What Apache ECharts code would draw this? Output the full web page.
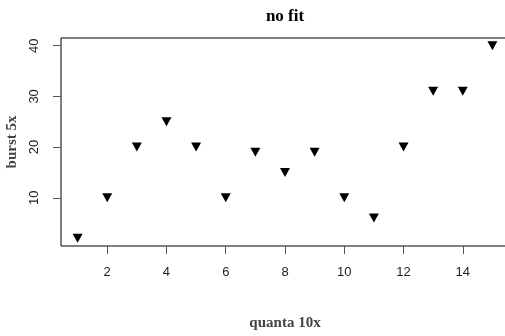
<!DOCTYPE html>
<html><head><meta charset="utf-8">
<script src="https://cdn.jsdelivr.net/npm/echarts@6/dist/echarts.min.js"></script>
<style>html,body{margin:0;padding:0;background:#fff}#c{width:505px;height:336px}</style>
</head><body><div id="c"></div>
<script>
const xValues = [1,2,3,4,5,6,7,8,9,10,11,12,13,14,15];
const yValues = [2,10,20,25,20,10,19,15,19,10,6,20,31,31,40];
const xTicks = [2,4,6,8,10,12,14];
const yTicks = [10,20,30,40];
const points = xValues.map((x,i)=>[x,yValues[i]]);
const chart = echarts.init(document.getElementById('c'), null, {renderer:'canvas'});
chart.setOption({
  animation:false,
  backgroundColor:'#fff',
  title:{text:'no fit',left:280,textAlign:'center',top:3,
    textStyle:{fontFamily:'Liberation Serif',fontWeight:'bold',fontSize:17,color:'#000'}},
  grid:{left:61,top:38,width:448,height:208,show:true,borderColor:'#000',borderWidth:1,backgroundColor:'transparent',outerBoundsMode:'none',containLabel:false},
  xAxis:{type:'value',min:0.44,max:15.56,splitLine:{show:false},
    axisLine:{show:false},
    axisTick:{show:true,inside:false,length:8,customValues:xTicks,lineStyle:{color:'#555'}},
    axisLabel:{customValues:xTicks,margin:20,fontFamily:'Liberation Sans',fontSize:13,color:'#222'},
    name:'quanta 10x',nameLocation:'middle',nameGap:70,
    nameTextStyle:{fontFamily:'Liberation Serif',fontWeight:'bold',fontSize:15,color:'#444'}},
  yAxis:{type:'value',min:0.48,max:41.52,splitLine:{show:false},
    axisLine:{show:false},
    axisTick:{show:true,inside:false,length:8,customValues:yTicks,lineStyle:{color:'#555'}},
    axisLabel:{customValues:yTicks,rotate:90,margin:20,fontFamily:'Liberation Sans',fontSize:13,color:'#222'},
    name:'burst 5x',nameLocation:'middle',nameGap:38,nameRotate:90,
    nameTextStyle:{fontFamily:'Liberation Serif',fontWeight:'bold',fontSize:15,color:'#444'}},
  series:[{type:'scatter',data:points,symbol:'triangle',symbolRotate:180,symbolSize:[10,9],
    itemStyle:{color:'#000',opacity:1}}]
});
</script></body></html>
